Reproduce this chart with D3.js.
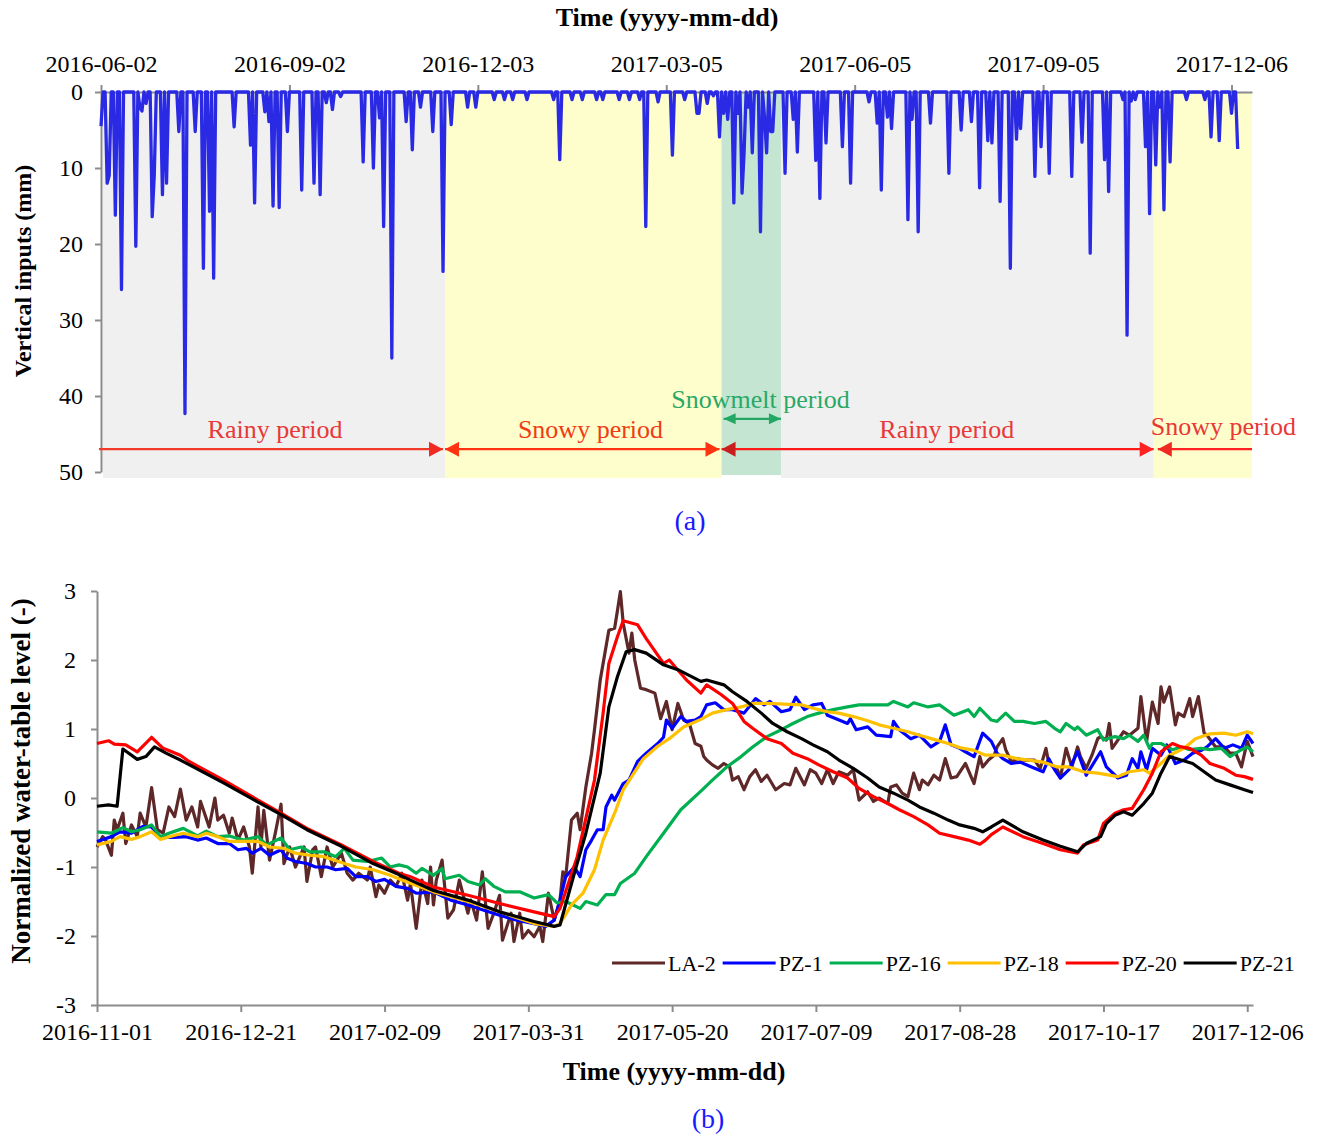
<!DOCTYPE html>
<html>
<style>
body { margin: 0; background: #fff; }
text { font-family: "Liberation Serif", "Times New Roman", serif; }
.axis path, .axis line { stroke: #8c8c8c; stroke-width: 2; }
.axis text { font-size: 24px; fill: #000; font-family: "Liberation Serif", serif; }
.title { font-weight: bold; fill: #000; }
</style>
<head>
  <script src="https://d3js.org/d3.v7.min.js"></script>
</head>
<body>
<div id="chart"></div>
<script>
// ---- panel (a): daily vertical inputs, [day since 2016-06-02, mm] (days not listed are 0)
const inputStart = "2016-06-02";
const inputEvents = [
  [0,4.5],[3,12],[4,11],[7,16.2],[10,26],[17,20.3],[19,2],[20,2.5],[22,1.5],[25,16.4],[26,11],
  [30,13.5],[32,12],[38,5.2],[41,42.3],[46,5.2],[50,23.2],[53,15.7],[55,24.5],[65,4.6],[73,7],
  [75,14.6],[80,2.6],[82,3.9],[84,15],[87,15.2],[91,5.2],[98,12.9],[104,12],[107,13.5],[110,1.4],
  [113,2.3],[117,0.6],[128,9.2],[133,10],[136,3.4],[138,17.7],[142,35],[149,3.9],[152,7.6],
  [156,2],[162,5.2],[167,23.6],[171,4.3],[179,2],[183,2],[192,1],[197,1],[201,1],[208,1],
  [221,1],[224,8.9],[230,1],[235,1],[242,1],[245,1],[253,1],[258,1],[263,1],[266,17.7],
  [272,1.3],[279,8.3],[285,1],[291,2.8],[292,2.8],[296,1.5],[299,0.5],[302,5.9],[304,2.8],
  [306,3.6],[309,14.6],[311,2.8],[313,13.3],[314,8],[316,2],[318,8],[322,18.4],[324,3.4],
  [325,8],[327,5.2],[328,5.2],[334,10.7],[338,3.6],[340,7.9],[349,9],[351,14],[354,6.7],
  [362,7.2],[366,12],[375,1.3],[379,4.1],[381,12.9],[384,3.3],[386,4.8],[394,16.8],[396,3.6],
  [399,18.4],[405,4.1],[414,10.7],[420,5],[425,3.9],[429,12.6],[433,6.4],[435,6.7],[439,14.4],
  [444,23.2],[447,6.2],[449,4.8],[456,11.1],[459,7.2],[463,10.7],[474,11.1],[479,6.6],
  [483,21.2],[490,8.9],[492,13.1],[499,1],[501,32],[503,1.2],[505,1],[510,7.2],[512,16],
  [515,9.6],[517,2],[519,15.5],[522,9.2],[530,1],[539,1],[542,5.9],[546,6.4],[552,2.8],[555,7.5]
];
const topTicks = ["2016-06-02","2016-09-02","2016-12-03","2017-03-05","2017-06-05","2017-09-05","2017-12-06"];
const inputTicks = [0, 10, 20, 30, 40, 50];

// periods
const periodStart = ["2016-06-03","2016-11-17","2017-04-01","2017-04-30","2017-10-29"];
const periodEnd   = ["2016-11-17","2017-04-01","2017-04-30","2017-10-29","2017-12-16"];
const periodKind  = ["rainy","snowy","snowmelt","rainy","snowy"];
const periodLabel = ["Rainy period","Snowy period","Snowmelt period","Rainy period","Snowy period"];
const labelDate   = ["2016-08-26","2017-01-27","2017-04-20","2017-07-20","2017-12-02"];

// ---- panel (b): normalized water-table level, [day since 2016-11-01, value]
const levelStart = "2016-11-01";
const bottomTicks = ["2016-11-01","2016-12-21","2017-02-09","2017-03-31","2017-05-20","2017-07-09","2017-08-28","2017-10-17","2017-12-06"];
const levelTicks = [-3, -2, -1, 0, 1, 2, 3];
const seriesNames = ["LA-2","PZ-1","PZ-16","PZ-18","PZ-20","PZ-21"];

const la2 = [
  [0,-0.71],[2,-0.56],[3,-0.61],[5,-0.83],[6,-0.32],[7,-0.46],[9,-0.22],[10,-0.66],[12,-0.39],[14,-0.56],
  [15,-0.22],[17,-0.42],[19,0.15],[21,-0.46],[23,-0.51],[25,-0.13],[27,-0.27],[29,0.13],[31,-0.32],[33,-0.13],
  [35,-0.42],[36,-0.05],[39,-0.42],[41,0],[42,-0.32],[44,-0.25],[46,-0.51],[47,-0.29],[49,-0.61],[51,-0.42],
  [53,-0.71],[54,-1.09],[56,-0.13],[57,-0.71],[58,-0.18],[60,-0.9],[62,-0.51],[64,-0.09],[65,-0.95],[67,-0.71],
  [69,-1.0],[72,-0.71],[73,-1.21],[75,-0.75],[76,-0.71],[78,-1.14],[80,-0.71],[82,-1.0],[85,-0.8],[87,-1.09],
  [89,-1.19],[91,-1.09],[94,-1.19],[95,-1.0],[97,-1.43],[98,-1.26],[100,-1.38],[102,-1.19],[104,-1.28],[106,-1.09],
  [108,-1.48],[109,-1.24],[111,-1.89],[113,-1.19],[115,-1.53],[116,-1.0],[117,-1.55],[118,-1.19],[120,-0.9],[122,-1.74],
  [124,-1.62],[126,-1.19],[129,-1.67],[130,-1.48],[132,-1.77],[134,-1.07],[136,-1.89],[138,-1.67],[140,-1.41],[141,-2.06],
  [144,-1.67],[145,-2.08],[147,-1.67],[148,-2.03],[150,-1.92],[152,-2.01],[154,-1.86],[155,-2.08],[157,-1.38],[159,-1.77],
  [161,-1.48],[162,-1.07],[163,-1.14],[165,-0.32],[167,-0.22],[168,-0.46],[170,0.16],[172,0.65],[173,0.99],[175,1.71],
  [177,2.19],[178,2.43],[180,2.46],[181,2.72],[182,2.99],[183,2.53],[185,2.10],[186,2.39],[187,2.0],[189,1.59],
  [191,1.57],[194,1.52],[196,1.15],[198,1.40],[200,0.99],[202,1.37],[204,1.13],[206,1.08],[208,0.79],[210,0.75],
  [211,0.60],[212,0.55],[214,0.48],[216,0.43],[218,0.50],[220,0.45],[221,0.26],[223,0.31],[225,0.12],[227,0.31],
  [229,0.41],[231,0.24],[233,0.33],[236,0.12],[239,0.21],[241,0.19],[243,0.43],[246,0.19],[248,0.41],[250,0.36],
  [252,0.21],[254,0.41],[256,0.21],[258,0.38],[261,0.33],[263,0.41],[265,-0.03],[268,0.09],[270,-0.05],[272,0.0],
  [275,-0.08],[276,0.16],[278,0.19],[280,0.07],[282,0.02],[284,0.36],[286,0.12],[287,0.26],[289,0.19],[291,0.33],
  [293,0.26],[295,0.57],[297,0.29],[299,0.31],[302,0.50],[305,0.21],[307,0.60],[308,0.45],[310,0.55],[312,0.62],
  [313,0.74],[315,0.86],[316,0.70],[318,0.52],[320,0.57],[322,0.55],[326,0.55],[328,0.43],[330,0.72],[331,0.50],
  [334,0.41],[335,0.29],[337,0.72],[339,0.45],[341,0.74],[342,0.60],[344,0.43],[346,0.62],[348,0.86],[349,0.89],
  [351,0.84],[352,1.08],[353,0.72],[355,0.84],[357,0.96],[359,0.91],[362,1.01],[363,1.47],[365,0.82],[367,1.39],
  [369,1.08],[370,1.61],[371,1.39],[373,1.61],[375,1.06],[376,1.23],[378,1.18],[380,1.44],[381,1.18],[383,1.47],
  [385,0.94],[386,0.91],[389,0.74],[392,0.74],[394,0.65],[396,0.65],[398,0.45],[400,0.82],[402,0.60]
];
const pz1 = [
  [0,-0.63],[5,-0.56],[8,-0.49],[12,-0.51],[16,-0.41],[19,-0.42],[22,-0.57],[27,-0.57],[31,-0.56],[35,-0.61],
  [38,-0.58],[42,-0.66],[46,-0.66],[49,-0.75],[52,-0.73],[54,-0.80],[57,-0.73],[60,-0.83],[64,-0.75],[66,-0.87],
  [69,-0.92],[73,-0.95],[76,-1.0],[80,-1.0],[83,-1.04],[87,-1.02],[90,-1.14],[94,-1.14],[97,-1.21],[100,-1.18],
  [104,-1.28],[108,-1.31],[111,-1.38],[117,-1.36],[123,-1.48],[129,-1.55],[134,-1.62],[140,-1.70],[146,-1.77],[152,-1.82],
  [156,-1.86],[159,-1.77],[161,-1.48],[163,-1.14],[166,-1.0],[168,-1.14],[170,-0.75],[172,-0.61],[174,-0.46],[176,-0.46],
  [177,-0.13],[179,0.04],[180,-0.03],[183,0.21],[185,0.26],[188,0.53],[191,0.65],[195,0.79],[197,0.88],[198,1.13],
  [200,1.01],[203,1.18],[205,1.11],[208,1.13],[210,1.18],[212,1.35],[215,1.38],[218,1.28],[221,1.28],[225,1.23],
  [229,1.44],[232,1.35],[234,1.40],[238,1.25],[241,1.28],[243,1.46],[246,1.28],[249,1.35],[252,1.37],[254,1.20],
  [257,1.15],[261,1.08],[262,1.15],[264,0.99],[268,1.03],[271,0.91],[276,0.89],[277,1.11],[279,0.99],[283,0.86],
  [286,0.91],[290,0.74],[293,0.82],[295,1.06],[297,0.77],[300,0.72],[302,0.67],[305,0.60],[308,0.94],[311,0.82],
  [313,0.65],[315,0.57],[318,0.50],[321,0.52],[325,0.45],[329,0.38],[331,0.57],[333,0.41],[335,0.29],[338,0.41],
  [341,0.67],[344,0.33],[349,0.67],[351,0.45],[355,0.29],[358,0.33],[360,0.57],[362,0.43],[363,0.67],[365,0.41],
  [367,0.72],[370,0.62],[372,0.77],[375,0.50],[378,0.55],[381,0.65],[384,0.69],[386,0.74],[389,0.86],[392,0.72],
  [395,0.77],[398,0.72],[400,0.91],[402,0.79]
];
const pz16 = [
  [0,-0.49],[5,-0.51],[9,-0.43],[12,-0.49],[15,-0.46],[19,-0.39],[22,-0.56],[25,-0.51],[30,-0.44],[35,-0.55],
  [38,-0.48],[42,-0.56],[46,-0.55],[51,-0.61],[56,-0.56],[59,-0.68],[64,-0.58],[67,-0.75],[71,-0.71],[74,-0.78],
  [79,-0.78],[83,-0.85],[86,-0.73],[89,-0.9],[94,-0.92],[99,-0.87],[102,-1.0],[105,-0.97],[108,-1.0],[111,-1.09],
  [113,-1.02],[117,-1.12],[120,-1.02],[121,-1.17],[126,-1.12],[129,-1.21],[133,-1.26],[135,-1.17],[138,-1.28],[142,-1.36],
  [147,-1.36],[152,-1.45],[157,-1.40],[160,-1.52],[163,-1.50],[168,-1.60],[170,-1.50],[174,-1.55],[177,-1.40],[180,-1.40],
  [182,-1.24],[187,-1.09],[191,-0.85],[197,-0.51],[203,-0.17],[210,0.10],[214,0.26],[219,0.45],[224,0.60],[228,0.74],
  [233,0.89],[238,0.99],[242,1.08],[247,1.18],[251,1.23],[256,1.28],[261,1.32],[265,1.35],[270,1.35],[275,1.35],
  [277,1.40],[282,1.32],[284,1.38],[289,1.32],[293,1.35],[298,1.20],[303,1.28],[305,1.18],[307,1.30],[311,1.13],
  [313,1.11],[316,1.23],[319,1.11],[322,1.11],[326,1.08],[330,1.11],[333,1.01],[335,0.96],[337,1.08],[340,0.99],
  [341,1.03],[344,0.91],[348,0.99],[350,0.84],[354,0.89],[357,0.86],[359,0.91],[362,0.82],[364,0.91],[366,0.72],
  [367,0.79],[370,0.79],[374,0.70],[377,0.74],[380,0.70],[384,0.72],[387,0.70],[391,0.72],[394,0.60],[398,0.70],
  [400,0.74],[402,0.67]
];
const pz18 = [
  [0,-0.68],[5,-0.63],[8,-0.56],[12,-0.60],[15,-0.56],[19,-0.49],[22,-0.60],[27,-0.54],[30,-0.51],[35,-0.56],
  [38,-0.51],[42,-0.56],[46,-0.63],[51,-0.63],[56,-0.63],[60,-0.71],[65,-0.73],[69,-0.80],[74,-0.83],[79,-0.85],
  [86,-0.95],[90,-1.0],[96,-1.04],[102,-1.12],[106,-1.19],[117,-1.36],[129,-1.50],[140,-1.65],[152,-1.82],[159,-1.86],
  [161,-1.82],[165,-1.55],[169,-1.38],[173,-1.04],[176,-0.61],[180,-0.22],[183,0.12],[187,0.38],[190,0.57],[195,0.75],
  [199,0.86],[204,1.03],[210,1.14],[214,1.23],[219,1.28],[224,1.32],[228,1.37],[233,1.37],[239,1.36],[245,1.35],
  [249,1.30],[254,1.25],[258,1.23],[263,1.18],[268,1.12],[272,1.06],[277,1.01],[282,0.96],[286,0.91],[291,0.85],
  [296,0.79],[300,0.73],[305,0.69],[309,0.62],[315,0.62],[320,0.57],[324,0.55],[329,0.52],[334,0.45],[338,0.45],
  [343,0.38],[348,0.36],[355,0.31],[359,0.38],[364,0.41],[366,0.36],[370,0.50],[373,0.62],[378,0.72],[382,0.86],
  [387,0.93],[392,0.94],[396,0.91],[400,0.96],[402,0.93]
];
const pz20 = [
  [0,0.79],[4,0.83],[6,0.78],[10,0.77],[14,0.67],[19,0.88],[23,0.72],[29,0.62],[32,0.53],[44,0.26],
  [56,-0.03],[64,-0.22],[73,-0.44],[85,-0.68],[96,-0.92],[105,-1.09],[109,-1.14],[117,-1.29],[129,-1.41],[140,-1.53],
  [152,-1.65],[159,-1.72],[161,-1.6],[167,-0.85],[173,0.26],[176,1.23],[178,1.95],[181,2.34],[183,2.57],[188,2.51],
  [191,2.31],[197,1.95],[199,2.0],[205,1.71],[210,1.52],[212,1.64],[217,1.50],[221,1.37],[225,1.11],[228,1.01],
  [233,0.86],[238,0.79],[242,0.65],[247,0.57],[251,0.48],[256,0.38],[261,0.29],[265,0.14],[270,0.02],[275,-0.08],
  [279,-0.17],[284,-0.27],[289,-0.39],[293,-0.51],[298,-0.56],[303,-0.61],[307,-0.67],[309,-0.61],[311,-0.53],[315,-0.42],
  [322,-0.56],[329,-0.66],[335,-0.75],[341,-0.80],[343,-0.68],[348,-0.61],[350,-0.37],[354,-0.22],[357,-0.17],[360,-0.15],
  [364,0.12],[367,0.36],[370,0.67],[374,0.79],[377,0.74],[380,0.72],[384,0.62],[387,0.50],[392,0.43],[396,0.33],
  [399,0.31],[402,0.27]
];
const pz21 = [
  [0,-0.12],[4,-0.10],[7,-0.12],[9,0.71],[14,0.56],[17,0.60],[20,0.74],[24,0.65],[29,0.55],[44,0.22],
  [56,-0.06],[64,-0.24],[73,-0.46],[85,-0.70],[96,-0.95],[105,-1.11],[109,-1.19],[117,-1.34],[129,-1.48],[140,-1.65],
  [152,-1.79],[159,-1.86],[161,-1.84],[166,-1.09],[170,-0.51],[175,0.36],[178,1.32],[181,1.76],[184,2.12],[187,2.15],
  [191,2.10],[197,1.93],[202,1.86],[210,1.69],[212,1.71],[218,1.64],[221,1.54],[226,1.40],[231,1.23],[235,1.08],
  [240,0.96],[245,0.86],[249,0.77],[254,0.67],[258,0.55],[263,0.43],[268,0.29],[272,0.16],[277,0.07],[282,-0.03],
  [286,-0.13],[291,-0.22],[296,-0.32],[300,-0.39],[305,-0.44],[308,-0.49],[311,-0.42],[315,-0.32],[322,-0.49],[329,-0.61],
  [335,-0.70],[341,-0.78],[344,-0.66],[349,-0.56],[351,-0.37],[354,-0.25],[357,-0.20],[360,-0.25],[364,-0.08],[367,0.07],
  [370,0.36],[373,0.60],[377,0.55],[381,0.50],[385,0.38],[389,0.26],[394,0.19],[399,0.12],[402,0.08]
];
const seriesData = [la2, pz1, pz16, pz18, pz20, pz21];

// styles
const seriesColor = {"LA-2": "#5e2828", "PZ-1": "#0000ff", "PZ-16": "#00b050", "PZ-18": "#ffc000", "PZ-20": "#ff0000", "PZ-21": "#000000"};
const bandColor = {rainy: "#f0f0f0", snowy: "#fefdcc", snowmelt: "#c3e5d2"};

const parse = d3.utcParse("%Y-%m-%d");
const fmt = d3.utcFormat("%Y-%m-%d");

var svg = d3.select("#chart").append("svg")
    .attr("width", 1320)
    .attr("height", 1137);

// ================= panel (a) =================
const aStart = parse(inputStart);
const xA = d3.scaleUtc().domain([aStart, parse("2017-12-16")]).range([101, 1252]);
const yA = d3.scaleLinear().domain([0, 50]).range([92, 472]);

svg.selectAll(".band")
    .data(periodKind)
    .enter().append("rect")
    .attr("class", "band")
    .attr("x", (d, i) => xA(parse(periodStart[i])))
    .attr("width", (d, i) => xA(parse(periodEnd[i])) - xA(parse(periodStart[i])))
    .attr("y", yA(0))
    .attr("height", (d, i) => yA(d == "snowmelt" ? 50.4 : 50.8) - yA(0))
    .attr("fill", d => bandColor[d]);

svg.append("g")
    .attr("class", "axis")
    .attr("transform", "translate(0," + yA(0) + ")")
    .call(d3.axisTop(xA)
      .tickValues(topTicks.map(parse))
      .tickFormat(fmt)
      .tickSize(7).tickSizeOuter(0).tickPadding(13));

svg.append("g")
    .attr("class", "axis")
    .attr("transform", "translate(" + xA(aStart) + ",0)")
    .call(d3.axisLeft(yA).tickValues(inputTicks).tickSize(6).tickSizeOuter(0).tickPadding(12));

var evMap = new Map(inputEvents);
var lastDay = d3.max(inputEvents, d => d[0]);
var daily = d3.range(lastDay + 1).map(d => ({date: d3.utcDay.offset(aStart, d), mm: evMap.get(d) || 0}));

svg.append("path")
    .datum(daily)
    .attr("fill", "none")
    .attr("stroke", "#2a2ae4")
    .attr("stroke-width", 3.3)
    .attr("stroke-linejoin", "round")
    .attr("d", d3.line().x(d => xA(d.date)).y(d => yA(d.mm)));

// arrows for the periods
function head(x, y, dir, len, half, color) {
  svg.append("path")
    .attr("d", "M" + x + "," + y + "L" + (x - dir * len) + "," + (y - half) + "L" + (x - dir * len) + "," + (y + half) + "Z")
    .attr("fill", color);
}
function arrow(d1, d2, mm, color, hs, he, c1, c2, len, half) {
  var x1 = xA(parse(d1)), x2 = xA(parse(d2)), y = yA(mm);
  svg.append("line").attr("x1", x1).attr("x2", x2).attr("y1", y).attr("y2", y)
    .attr("stroke", color).attr("stroke-width", 2.2);
  if (hs) head(x1, y, -1, len, half, c1);
  if (he) head(x2, y, 1, len, half, c2);
}
arrow("2016-06-01", "2016-11-16", 47, "#f23a2a", false, true, null, "#f02a22", 14, 7.5);
arrow("2016-11-17", "2017-03-31", 47, "#ff3311", true, true, "#ff3311", "#ff3311", 14, 7.5);
arrow("2017-04-01", "2017-10-29", 47, "#ff1a1a", true, true, "#c81e1e", "#ff2222", 14, 7.5);
arrow("2017-10-31", "2017-12-16", 47, "#ff2222", true, false, "#f02a22", null, 14, 7.5);
arrow("2017-04-02", "2017-04-30", 43, "#22a862", true, true, "#22a862", "#22a862", 12, 5.5);

svg.selectAll(".plabel")
    .data(periodLabel)
    .enter().append("text")
    .attr("class", "plabel")
    .attr("x", (d, i) => xA(parse(labelDate[i])))
    .attr("y", (d, i) => i == 2 ? 408 : (i == 4 ? 435 : 438))
    .attr("text-anchor", "middle")
    .attr("font-size", 26)
    .attr("fill", (d, i) => i == 2 ? "#2aa866" : (i == 1 ? "#f03c14" : "#e83838"))
    .text(d => d);

svg.append("text").attr("class", "title")
    .attr("x", 667).attr("y", 26).attr("text-anchor", "middle").attr("font-size", 26)
    .text("Time (yyyy-mm-dd)");
svg.append("text").attr("class", "title")
    .attr("transform", "translate(31,271) rotate(-90)").attr("text-anchor", "middle").attr("font-size", 24)
    .text("Vertical inputs (mm)");
svg.append("text")
    .attr("x", 690).attr("y", 530).attr("text-anchor", "middle").attr("font-size", 28).attr("fill", "#1a1aff")
    .text("(a)");

// ================= panel (b) =================
const bStart = parse(levelStart);
const xB = d3.scaleUtc().domain([bStart, parse("2017-12-08")]).range([97, 1253]);
const yB = d3.scaleLinear().domain([-3, 3]).range([1005, 591]);

svg.append("g")
    .attr("class", "axis")
    .attr("transform", "translate(0," + yB(-3) + ")")
    .call(d3.axisBottom(xB)
      .tickValues(bottomTicks.map(parse))
      .tickFormat(fmt)
      .tickSize(7).tickSizeOuter(0).tickPadding(11));

svg.append("g")
    .attr("class", "axis")
    .attr("transform", "translate(" + xB(bStart) + ",0)")
    .call(d3.axisLeft(yB).tickValues(levelTicks).tickFormat(d => String(d)).tickSize(6).tickSizeOuter(0).tickPadding(15));

var lineB = d3.line()
    .x(d => xB(d3.utcDay.offset(bStart, d[0])))
    .y(d => yB(d[1]));

svg.selectAll(".level")
    .data(seriesData)
    .enter().append("path")
    .attr("class", "level")
    .attr("fill", "none")
    .attr("stroke", (d, i) => seriesColor[seriesNames[i]])
    .attr("stroke-width", 3.2)
    .attr("stroke-linejoin", "round")
    .attr("d", lineB);

// legend
var lx = 612;
seriesNames.forEach(function(name) {
  svg.append("line").attr("x1", lx).attr("x2", lx + 53).attr("y1", 963).attr("y2", 963)
    .attr("stroke", seriesColor[name]).attr("stroke-width", 3);
  var t = svg.append("text").attr("x", lx + 56).attr("y", 963).attr("dy", "0.35em")
    .attr("font-size", 22).text(name);
  lx += 56 + t.node().getComputedTextLength() + 7;
});

svg.append("text").attr("class", "title")
    .attr("x", 674).attr("y", 1080).attr("text-anchor", "middle").attr("font-size", 26)
    .text("Time (yyyy-mm-dd)");
svg.append("text").attr("class", "title")
    .attr("transform", "translate(30,781) rotate(-90)").attr("text-anchor", "middle").attr("font-size", 27)
    .text("Normalized water-table level (-)");
svg.append("text")
    .attr("x", 708).attr("y", 1128).attr("text-anchor", "middle").attr("font-size", 28).attr("fill", "#1a1aff")
    .text("(b)");
</script>
</body>
</html>
